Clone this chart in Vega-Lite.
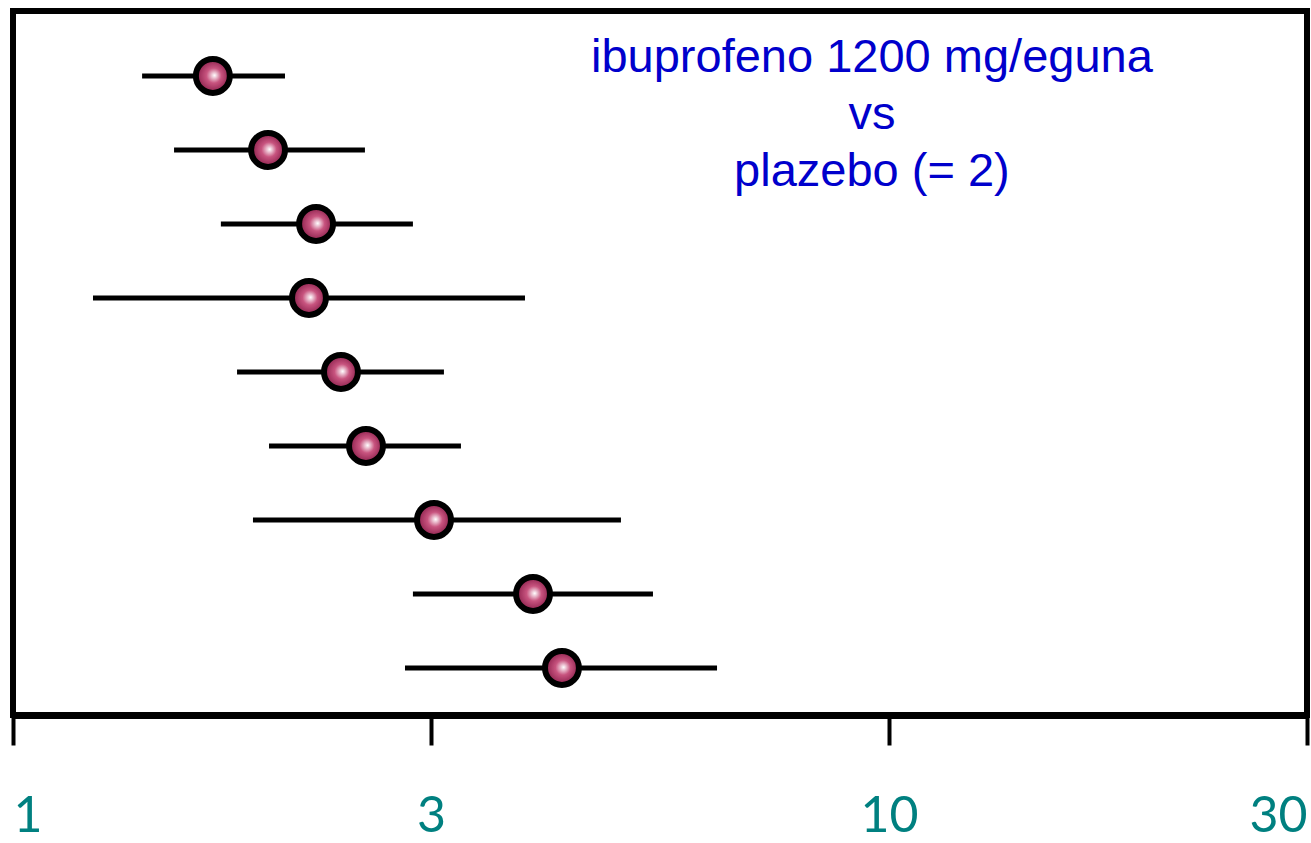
{
  "$schema": "https://vega.github.io/schema/vega-lite/v6.json",
  "width": 1294,
  "height": 704,
  "autosize": {"type": "none"},
  "padding": {"left": 13, "top": 11, "right": 4, "bottom": 128},
  "background": "white",
  "config": {
    "view": {"stroke": "black", "strokeWidth": 6},
    "axis": {"grid": false}
  },
  "datasets": {
    "rows": [
      {"row": 1, "est": 1.691, "lo": 1.404, "hi": 2.044},
      {"row": 2, "est": 1.955, "lo": 1.527, "hi": 2.522},
      {"row": 3, "est": 2.218, "lo": 1.727, "hi": 2.861},
      {"row": 4, "est": 2.177, "lo": 1.234, "hi": 3.841},
      {"row": 5, "est": 2.368, "lo": 1.802, "hi": 3.104},
      {"row": 6, "est": 2.529, "lo": 1.960, "hi": 3.246},
      {"row": 7, "est": 3.024, "lo": 1.879, "hi": 4.943},
      {"row": 8, "est": 3.923, "lo": 2.861, "hi": 5.377},
      {"row": 9, "est": 4.233, "lo": 2.802, "hi": 6.363}
    ],
    "title": [
      {"label": "ibuprofeno 1200 mg/eguna\nvs\nplazebo (= 2)", "x": 9.56, "y": 0.76}
    ]
  },
  "layer": [
    {
      "data": {"name": "rows"},
      "mark": {"type": "rule", "color": "black", "strokeWidth": 5},
      "encoding": {
        "x": {
          "field": "lo", "type": "quantitative",
          "scale": {"type": "log", "domain": [1, 30], "nice": false, "zero": false},
          "axis": {
            "title": null,
            "values": [1, 3, 10, 30],
            "format": "d",
            "domainColor": "black", "domainWidth": 7,
            "tickColor": "black", "tickWidth": 4, "tickSize": 30,
            "labelFlush": true,
            "labelPadding": 46,
            "labelColor": "#008080",
            "labelFont": "Lato",
            "labelFontSize": 50,
            "labelBaseline": "top"
          }
        },
        "x2": {"field": "hi"},
        "y": {
          "field": "row", "type": "quantitative",
          "scale": {"domain": [0.122, 9.636], "reverse": true, "nice": false, "zero": false},
          "axis": null
        }
      }
    },
    {
      "data": {"name": "rows"},
      "mark": {
        "type": "circle",
        "size": 1150,
        "opacity": 1,
        "stroke": "black",
        "strokeWidth": 6,
        "fill": {
          "gradient": "radial",
          "x1": 0.55, "y1": 0.48, "r1": 0,
          "x2": 0.5, "y2": 0.5, "r2": 0.55,
          "stops": [
            {"offset": 0, "color": "#ffffff"},
            {"offset": 0.4, "color": "#c8547f"},
            {"offset": 1, "color": "#7e1440"}
          ]
        }
      },
      "encoding": {
        "x": {"field": "est", "type": "quantitative"},
        "y": {"field": "row", "type": "quantitative"}
      }
    },
    {
      "data": {"name": "title"},
      "mark": {
        "type": "text",
        "font": "Liberation Sans",
        "fontSize": 47,
        "color": "#0000cc",
        "align": "center",
        "baseline": "middle",
        "lineBreak": "\n",
        "lineHeight": 57
      },
      "encoding": {
        "x": {"field": "x", "type": "quantitative"},
        "y": {"field": "y", "type": "quantitative"},
        "text": {"field": "label"}
      }
    }
  ]
}
